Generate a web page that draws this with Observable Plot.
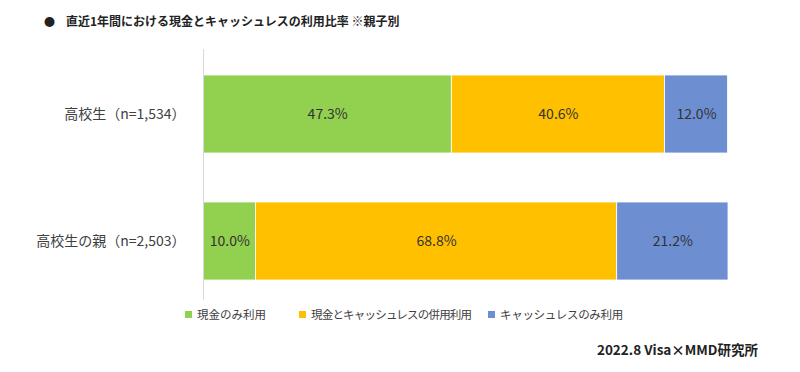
<!DOCTYPE html>
<html>
<head>
<meta charset="utf-8">
<script src="https://cdn.jsdelivr.net/npm/d3@7"></script>
<script src="https://cdn.jsdelivr.net/npm/@observablehq/plot@0.6"></script>
<style>
  html, body { margin: 0; padding: 0; background: #fff; }
  #wrap { position: relative; width: 800px; height: 372px; overflow: hidden;
          font-family: "Noto Sans CJK JP", "Noto Sans", sans-serif; }
  #title { position: absolute; left: 44px; top: 12px; font-size: 12px; font-weight: bold; color: #222; white-space: nowrap; }
  #title .dot { display: inline-block; margin-right: 11px; font-size: 11px; }
  #legend { position: absolute; left: 0; top: 306px; width: 800px; height: 20px; font-size: 11.5px; color: #404040; white-space: nowrap; }
  #legend span.item { position: absolute; top: 0; }
  #legend i { display: inline-block; width: 7px; height: 7px; margin-right: 5px; vertical-align: 1px; }
  #caption { position: absolute; right: 42px; top: 339px; font-size: 13.5px; font-weight: bold; color: #222; white-space: nowrap; }
  #chart { position: absolute; left: 0; top: 0; }
</style>
</head>
<body>
<div id="wrap">
  <div id="chart"></div>
  <div id="title"><span class="dot">●</span>直近1年間における現金とキャッシュレスの利用比率 ※親子別</div>
  <div id="legend"></div>
  <div id="caption">2022.8 Visa×MMD研究所</div>
</div>
<script>
const groups = ["高校生（n=1,534）", "高校生の親（n=2,503）"];
const types = ["現金のみ利用", "現金とキャッシュレスの併用利用", "キャッシュレスのみ利用"];
const studentValues = [47.3, 40.6, 12.0];
const parentValues = [10.0, 68.8, 21.2];
const colors = ["#92d050", "#ffc000", "#6d8fd2"];

const rows = [];
types.forEach((t, i) => rows.push({group: groups[0], type: t, value: studentValues[i]}));
types.forEach((t, i) => rows.push({group: groups[1], type: t, value: parentValues[i]}));

const plot = Plot.plot({
  width: 800,
  height: 372,
  marginTop: 49,
  marginBottom: 72,
  marginLeft: 203,
  marginRight: 72,
  style: {fontFamily: '"Noto Sans CJK JP", "Noto Sans", sans-serif', background: "transparent"},
  x: {domain: [0, 100], axis: null},
  y: {domain: groups, paddingInner: 0.382, paddingOuter: 0.179, align: 0.57, label: null},
  color: {domain: types, range: colors},
  marks: [
    Plot.barX(rows, Plot.stackX({x: "value", y: "group", z: "type", fill: "type", order: null,
      stroke: "white", strokeWidth: 0.8})),
    Plot.text(rows, Plot.stackX({x: "value", y: "group", z: "type", order: null,
      text: d => d.value.toFixed(1) + "%", fill: "#333", fontSize: 14})),
    Plot.ruleX([0], {stroke: "#d9d9d9", strokeWidth: 1}),
    Plot.axisY({tickSize: 0, tickPadding: 18, fontSize: 14, color: "#404040", label: null})
  ]
});
document.getElementById("chart").appendChild(plot);

const legend = document.getElementById("legend");
const lefts = [185, 299, 488];
const spacing = [0, -0.8, -0.3];
types.forEach((t, i) => {
  const s = document.createElement("span");
  s.className = "item";
  s.style.left = lefts[i] + "px";
  const sw = document.createElement("i");
  sw.style.background = colors[i];
  s.appendChild(sw);
  const tx = document.createElement("span");
  tx.style.letterSpacing = spacing[i] + "px";
  tx.textContent = t;
  s.appendChild(tx);
  legend.appendChild(s);
});
</script>
</body>
</html>
